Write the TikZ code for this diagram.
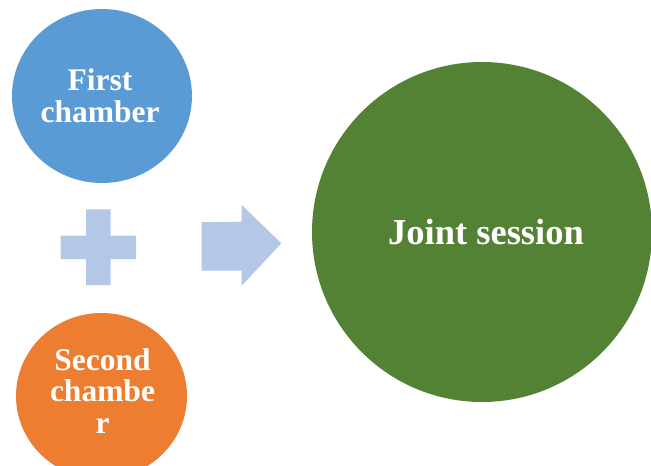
\documentclass[tikz,border=0pt]{standalone}
\usepackage{fontspec}
\setmainfont{Liberation Serif}
\usetikzlibrary{shapes.geometric}
\definecolor{cblue}{HTML}{5B9BD5}
\definecolor{corange}{HTML}{ED7D31}
\definecolor{cgreen}{HTML}{548235}
\definecolor{clight}{HTML}{B4C7E7}
\tikzset{
  blob/.style={ellipse, inner sep=0pt, draw=none},
  lbl/.style={text=white, font=\fontsize{31.5}{31.5}\selectfont\bfseries, align=center, inner sep=0pt},
  sym/.style={fill=clight, draw=none}
}
\begin{document}
\begin{tikzpicture}[x=1pt,y=-1pt]
\useasboundingbox (0,0) rectangle (651,466);
% circles
\node[blob, fill=cblue, minimum width=180pt, minimum height=174pt] (first) at (102,96) {};
\node[blob, fill=corange, minimum width=171pt, minimum height=166pt] (second) at (101.5,396) {};
\node[blob, fill=cgreen, minimum width=340pt, minimum height=340pt] (joint) at (482,232) {};
% labels
\node[lbl] (firstlbl) at (100,95.5) {First\\chamber};
\node[lbl] (secondlbl) at (102.5,391) {Second\\chambe\\r};
\node[lbl, font=\fontsize{36.5}{36.5}\selectfont\bfseries] (jointlbl) at (486,232) {Joint session};
% plus sign
\fill[sym] (86,209.3) -- (110.7,209.3) -- (110.7,235.7) -- (136,235.7) -- (136,259) -- (110.7,259)
  -- (110.7,285) -- (86,285) -- (86,259) -- (60.7,259) -- (60.7,235.7) -- (86,235.7) -- cycle;
% arrow
\fill[sym] (201.7,222.2) -- (241.7,221.7) -- (241.7,205) -- (281.3,243.3) -- (241.7,285.7)
  -- (241.7,270.7) -- (201.7,270.7) -- cycle;
\end{tikzpicture}
\end{document}
